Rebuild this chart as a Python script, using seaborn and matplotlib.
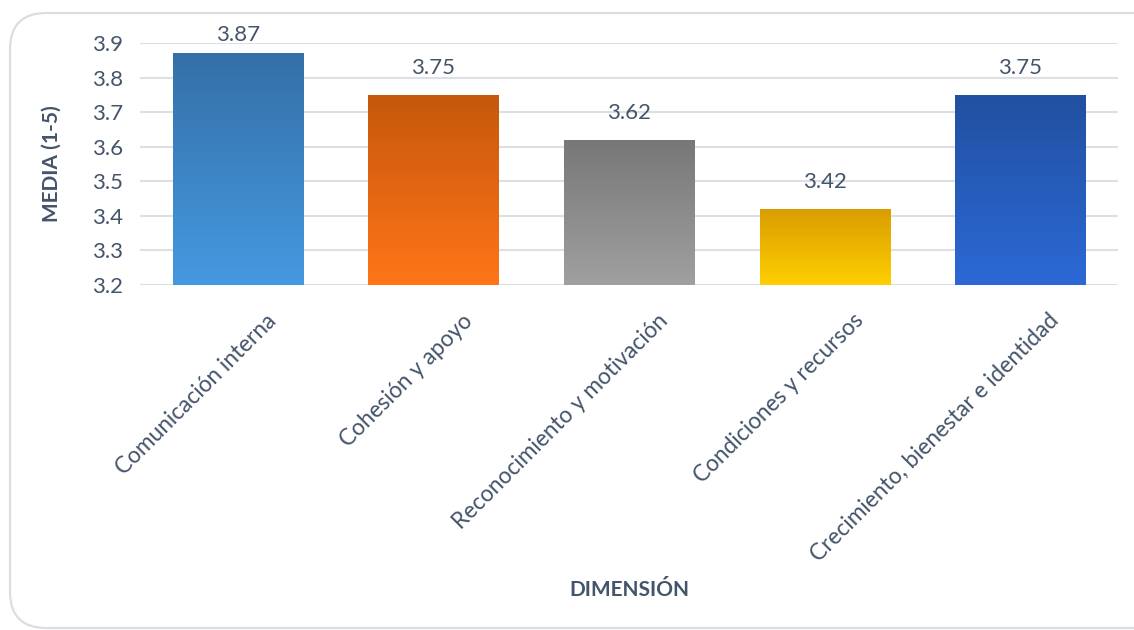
import numpy as np
import pandas as pd
import matplotlib
matplotlib.use("Agg")
import matplotlib.pyplot as plt
import matplotlib.transforms as mtransforms
import seaborn as sns
from matplotlib.patches import FancyBboxPatch
from matplotlib.colors import LinearSegmentedColormap

categories = ["Comunicación interna", "Cohesión y apoyo", "Reconocimiento y motivación",
              "Condiciones y recursos", "Crecimiento, bienestar e identidad"]
values = [3.87, 3.75, 3.62, 3.42, 3.75]
labels = ["3.87", "3.75", "3.62", "3.42", "3.75"]
top_colors = ["#3470A8", "#C5580C", "#777777", "#D99C00", "#2150A0"]
bottom_colors = ["#4599E0", "#FF7518", "#A0A0A0", "#FFCF00", "#2C69D6"]
yticks = [3.2, 3.3, 3.4, 3.5, 3.6, 3.7, 3.8, 3.9]

sns.set_theme(style="white")
plt.rcParams['font.family'] = ['Lato', 'DejaVu Sans']
txt = "#44546A"

fig = plt.figure(figsize=(11.34, 6.3), dpi=100)
frame = FancyBboxPatch((10/1134, 2/630), 1.2, (617-2)/630, transform=fig.transFigure,
                       boxstyle="round,pad=0,rounding_size=0.032", fc="none",
                       ec="#DADDE2", lw=1.6, zorder=-1, mutation_aspect=1134/630)
fig.patches.append(frame)

ax = fig.add_axes([140/1134, 1 - 285/630, (1118-140)/1134, (285-43)/630])
ax.patch.set_alpha(0)
df = pd.DataFrame({"cat": categories, "val": values})
sns.barplot(data=df, x="cat", y="val", ax=ax, width=0.665, color="#cccccc",
            edgecolor="none", zorder=3)
ax.set_ylim(3.2, 3.9)
ax.set_yticks(yticks)
ax.set_yticklabels([f"{t:.1f}" for t in yticks], fontsize=16, color=txt)
ax.yaxis.grid(True, color="#DCDFE3", lw=1.5, zorder=0)
ax.set_axisbelow(True)
for s in ax.spines.values():
    s.set_visible(False)
ax.tick_params(axis="y", length=0, pad=12)

for i, p in enumerate(ax.patches):
    x0, w = p.get_x(), p.get_width()
    y1 = p.get_height() + p.get_y()
    cmap = LinearSegmentedColormap.from_list(f"g{i}", [bottom_colors[i], top_colors[i]])
    grad = np.linspace(0, 1, 256).reshape(-1, 1)
    im = ax.imshow(grad, cmap=cmap, aspect="auto", origin="lower",
                   extent=[x0, x0 + w, 3.2, y1], zorder=4)
    im.set_clip_path(p)
    p.set_facecolor("none")
    ax.text(x0 + w / 2, min(values[i] + 0.05, 3.895), labels[i], ha="center", va="bottom",
            fontsize=16, color=txt, zorder=5)
ax.set_xlim(-0.5, 4.5)
ax.set_ylim(3.2, 3.9)

ax.set_xticks(range(len(categories)))
ax.set_xticklabels(categories, rotation=45, ha="right", rotation_mode="anchor",
                   fontsize=16.3, color=txt)
ax.tick_params(axis="x", length=0, pad=0)
offset = mtransforms.ScaledTranslation(0.28, -0.25, fig.dpi_scale_trans)
for lab in ax.get_xticklabels():
    lab.set_transform(lab.get_transform() + offset)
ax.set_xlabel("DIMENSIÓN", fontsize=15, fontweight="bold", color=txt, labelpad=0)
ax.xaxis.set_label_coords(0.5, -1.22)
ax.set_ylabel("MEDIA (1-5)", fontsize=15, fontweight="bold", color=txt, labelpad=22)

fig.savefig("out.png", dpi=100)
